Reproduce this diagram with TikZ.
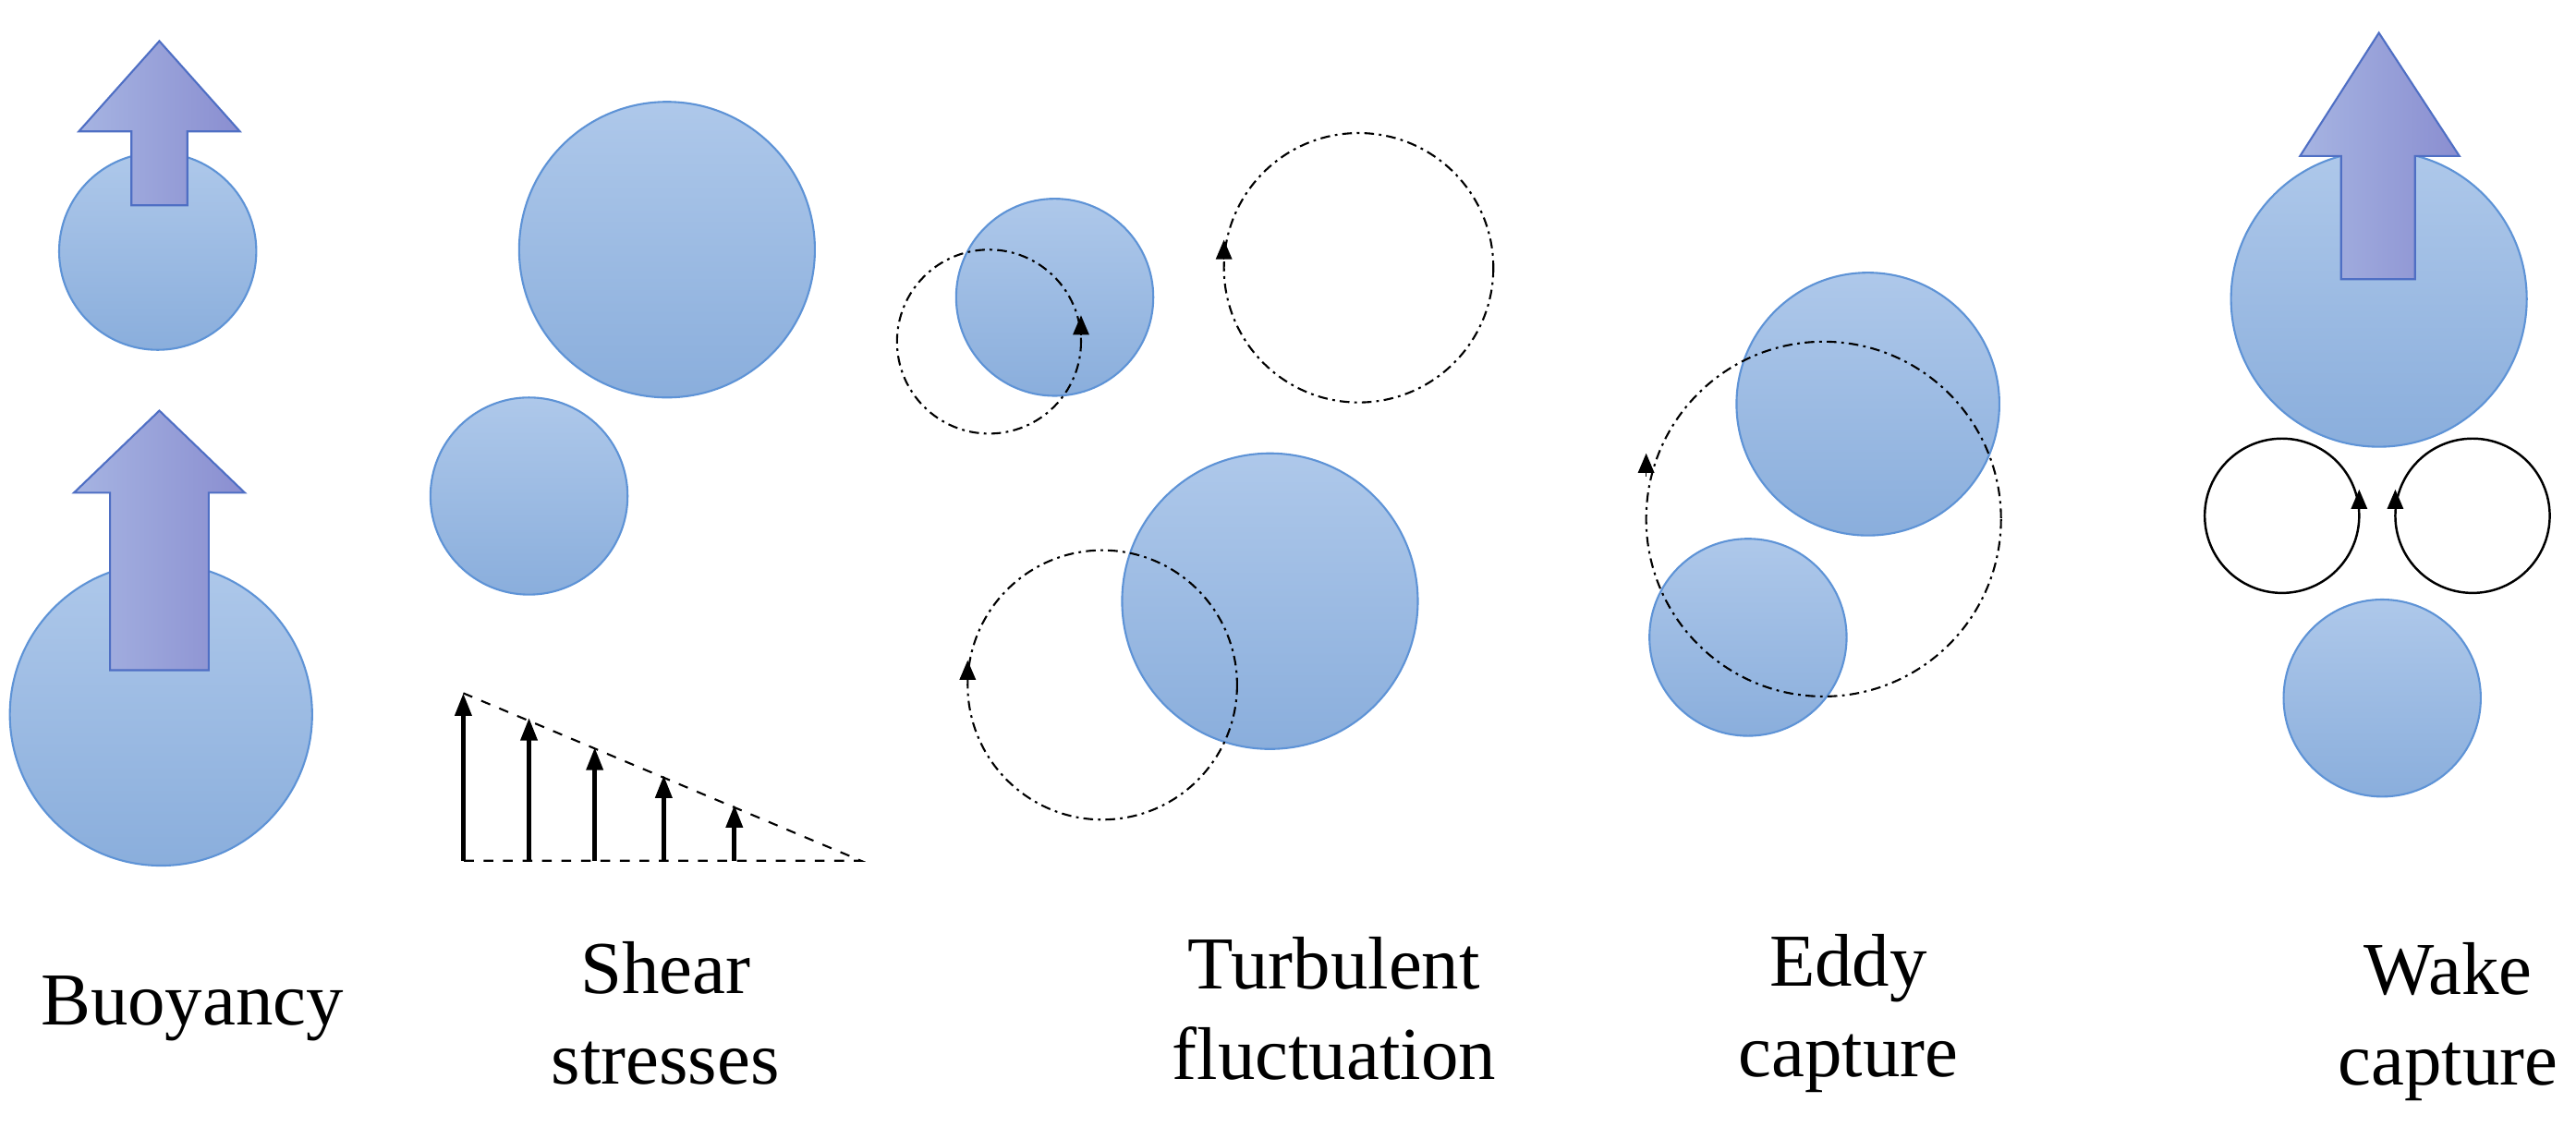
\documentclass[tikz,border=0pt]{standalone}
\usepackage{fontspec}
\setmainfont{Liberation Serif}
\usetikzlibrary{arrows.meta}
\definecolor{btop}{HTML}{AEC8EA}
\definecolor{bbot}{HTML}{8AAEDC}
\definecolor{bdraw}{HTML}{5E93D6}
\definecolor{aleft}{HTML}{A6B4E2}
\definecolor{aright}{HTML}{8A8ED0}
\definecolor{adraw}{HTML}{4F6FC4}
\begin{document}
\begin{tikzpicture}[x=0.01778cm,y=-0.01778cm,
 bub/.style={circle, inner sep=0pt, minimum size=#1*0.01778cm, draw=bdraw, line width=0.6pt, top color=btop, bottom color=bbot},
 bigarr/.style={draw=adraw, line width=0.6pt, left color=aleft, right color=aright},
 eddy/.style={draw, line width=0.6pt, dash pattern=on 3pt off 1.5pt on 0.8pt off 1.5pt},
 wake/.style={draw, line width=0.7pt},
 lab/.style={font=\fontsize{23}{28}\selectfont, align=center},
 tip/.style={-{Triangle[length=6pt,width=5pt]}},
 shearar/.style={-{Triangle[length=7pt,width=5pt]}, line width=1.4pt}]
\useasboundingbox (0,0) rectangle (1568,686);
% Buoyancy
\node[bub=120] (b1) at (96,153) {};
\draw[bigarr] (80,125) -- (80,80) -- (48,80) -- (97,25) -- (146,80) -- (114,80) -- (114,125) -- cycle;
\node[bub=184] (b2) at (98,435) {};
\draw[bigarr] (67,408) -- (67,300) -- (45,300) -- (97,250) -- (149,300) -- (127,300) -- (127,408) -- cycle;
\node[lab] (tb) at (117,614) {Buoyancy};
% Shear
\node[bub=180] (s1) at (406,152) {};
\node[bub=120] (s2) at (322,302) {};
\coordinate (t0) at (282,524); \coordinate (t1) at (282,422); \coordinate (t2) at (524,524);
\draw[dashed, line width=0.6pt] (t1) -- (t2) -- (t0);
\foreach \x/\y in {282/422,322/437,362/455,404/472,447/490}
  \draw[shearar] (\x,524) -- (\x,\y);
\node[lab] (ts) at (405,617) {Shear\\stresses};
% Turbulent
\node[bub=120] (u1) at (642,181) {};
\node[bub=180] (u2) at (773,366) {};
\draw[eddy] (602,208) circle (56);
\draw[eddy] (827,163) circle (82);
\draw[eddy] (671,417) circle (82);
\draw[tip] (658,204) -- (658,192);
\draw[tip] (745,158) -- (745,146);
\draw[tip] (589,414) -- (589,402);
\node[lab] (tu) at (812,614) {Turbulent\\fluctuation};
% Eddy
\node[bub=160] (e1) at (1137,246) {};
\node[bub=120] (e2) at (1064,388) {};
\draw[eddy] (1110,316) circle (108);
\draw[tip] (1002,290) -- (1002,276);
\node[lab] (te) at (1125,617) {Eddy\\capture};
% Wake
\node[bub=180] (w1) at (1448,182) {};
\draw[bigarr] (1425,170) -- (1425,95) -- (1400,95) -- (1448,20) -- (1497,95) -- (1470,95) -- (1470,170) -- cycle;
\node[bub=120] (w2) at (1450,425) {};
\draw[wake] (1389,314) circle (47);
\draw[wake] (1505,314) circle (47);
\draw[tip] (1436,312) -- (1436,298);
\draw[tip] (1458,312) -- (1458,298);
\node[lab] (tw) at (1490,622) {Wake\\capture};
\end{tikzpicture}
\end{document}
